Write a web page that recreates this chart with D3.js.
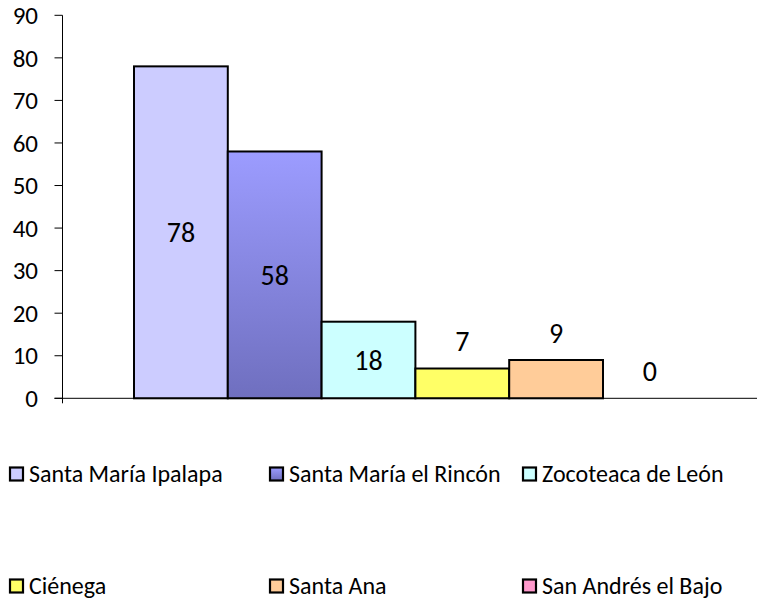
<!DOCTYPE html>
<html>
<head>
<meta charset="utf-8">
<script src="https://cdn.jsdelivr.net/npm/d3@7"></script>
<style>
  html,body{margin:0;padding:0;background:#fff;}
  svg{display:block;}
</style>
</head>
<body>
<svg id="chart" width="759" height="602"></svg>
<script>
// data
var categories=['Santa María Ipalapa','Santa María el Rincón','Zocoteaca de León','Ciénega','Santa Ana','San Andrés el Bajo'];
var values=[78,58,18,7,9,0];
var colors=['#CCCCFF','url(#g2)','#CCFFFF','#FFFF66','#FFCC99','#FF99CC'];
var yTicks=[0,10,20,30,40,50,60,70,80,90];

var FONT='Carlito, Calibri, "Open Sans", sans-serif';

var svg=d3.select('#chart');
var defs=svg.append('defs');
var gr=defs.append('linearGradient').attr('id','g2').attr('x1','0').attr('x2','0').attr('y1','0').attr('y2','1');
gr.append('stop').attr('offset','0%').attr('stop-color','#9C9CFF');
gr.append('stop').attr('offset','100%').attr('stop-color','#6F6FBF');

var axX=62.5, y0=398.3, yTop=15.3;
var y=d3.scaleLinear().domain([0,90]).range([y0,yTop]);
var x=d3.scaleBand().domain(categories).range([134,134+6*93.8]).padding(0);

// y axis
svg.append('line').attr('x1',axX).attr('x2',axX).attr('y1',yTop).attr('y2',y0+5).attr('stroke','#000').attr('stroke-width',1);
yTicks.forEach(function(t){
  svg.append('line').attr('x1',axX-8).attr('x2',axX).attr('y1',y(t)).attr('y2',y(t)).attr('stroke','#000');
  svg.append('text').attr('x',38).attr('y',y(t)).attr('dy','0.35em').attr('text-anchor','end')
    .attr('font-family',FONT).attr('font-size','25px').attr('fill','#000').text(t);
});

// bars
categories.forEach(function(c,i){
  var v=values[i];
  if(v>0){
    svg.append('rect').attr('x',x(c)).attr('y',y(v)).attr('width',x.bandwidth()).attr('height',y0-y(v))
      .attr('fill',colors[i]).attr('stroke','#000').attr('stroke-width',2);
  }
  var h=y0-y(v);
  var ly=h>40?(y(v)+y0)/2:y(v)-27;
  svg.append('text').attr('x',x(c)+x.bandwidth()/2).attr('y',ly).attr('dy','0.35em').attr('text-anchor','middle')
    .attr('font-family',FONT).attr('font-size','28px').attr('fill','#000').text(v);
});

// x axis
svg.append('line').attr('x1',axX-8).attr('x2',757).attr('y1',y0).attr('y2',y0).attr('stroke','#000').attr('stroke-width',1);

// legend
var legX=[9,269,522], legY=[474,586];
categories.forEach(function(c,i){
  var lx=legX[i%3], ly=legY[Math.floor(i/3)];
  svg.append('rect').attr('x',lx+1).attr('y',ly-6.5).attr('width',13).attr('height',13)
    .attr('fill',colors[i]).attr('stroke','#000').attr('stroke-width',2.2);
  svg.append('text').attr('x',lx+20).attr('y',ly).attr('dy','0.35em')
    .attr('font-family',FONT).attr('font-size','24px').attr('fill','#000').text(c);
});
</script>
</body>
</html>
